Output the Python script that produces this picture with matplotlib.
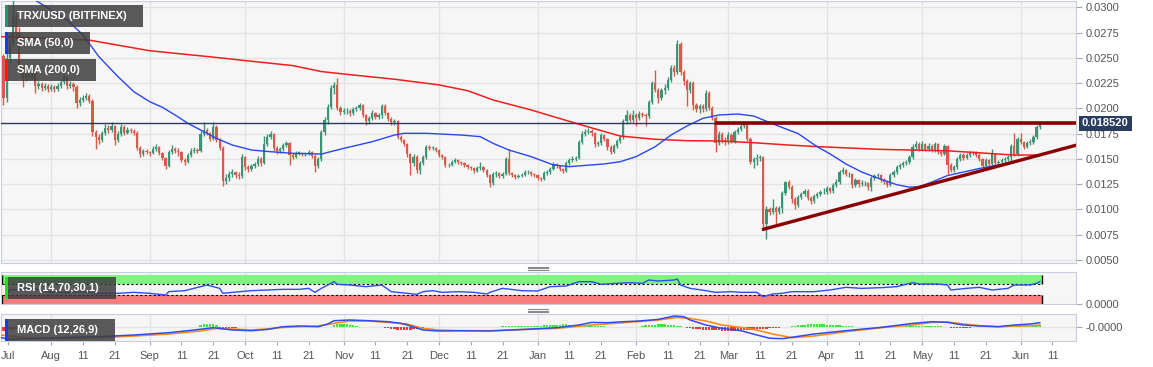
import numpy as np
import matplotlib
matplotlib.use("Agg")
import matplotlib.pyplot as plt
from matplotlib.lines import Line2D
from matplotlib.patches import Rectangle

plt.rcParams['font.family'] = ['Liberation Sans', 'DejaVu Sans']

# x axis: day number, day 0 = 1 Aug 2019; prices in units of 0.0001 USD
first_day = -15          # first candle: 17 Jul 2019
first_open = 252

closes = [210, 250, 265, 290, 275, 241, 230, 234, 231, 234,
          222, 224, 220, 222, 219, 221, 219, 222, 226, 231,
          222, 224, 221, 205, 208, 210, 212, 207, 177, 172,
          169, 176, 181, 179, 183, 169, 175, 182, 176, 179,
          178, 176, 161, 155, 158, 157, 156, 160, 162, 156,
          151, 143, 157, 160, 158, 157, 149, 147, 154, 158,
          159, 158, 175, 179, 176, 170, 182, 169, 161, 128,
          131, 135, 137, 134, 133, 152, 142, 140, 143, 145,
          150, 146, 165, 172, 175, 161, 158, 160, 164, 166,
          154, 152, 156, 156, 155, 155, 157, 153, 143, 150,
          177, 188, 201, 220, 223, 200, 196, 197, 197, 195,
          199, 200, 203, 193, 187, 190, 195, 191, 193, 202,
          195, 189, 186, 187, 172, 169, 165, 155, 146, 152,
          139, 146, 152, 162, 161, 161, 159, 154, 152, 144,
          144, 147, 149, 147, 146, 144, 142, 141, 138, 141,
          142, 139, 134, 126, 135, 136, 133, 135, 150, 136,
          134, 132, 133, 134, 137, 137, 135, 134, 131, 130,
          136, 137, 140, 145, 143, 140, 138, 146, 149, 150,
          151, 167, 175, 177, 178, 176, 165, 166, 174, 170,
          162, 157, 163, 168, 172, 187, 193, 188, 193, 190,
          194, 193, 192, 206, 225, 218, 210, 218, 220, 228,
          240, 236, 264, 236, 227, 218, 225, 203, 199, 202,
          199, 215, 200, 190, 166, 175, 169, 167, 174, 168,
          177, 180, 183, 185, 170, 147, 150, 151, 152, 86,
          100, 97, 101, 97, 101, 116, 127, 122, 110, 104,
          112, 115, 118, 111, 108, 113, 115, 117, 117, 121,
          118, 124, 127, 137, 139, 135, 135, 124, 129, 125,
          126, 126, 122, 131, 133, 134, 129, 127, 124, 134,
          137, 142, 144, 146, 147, 152, 162, 165, 160, 165,
          160, 163, 159, 165, 157, 155, 163, 144, 139, 142,
          150, 154, 151, 154, 156, 156, 154, 150, 143, 149,
          145, 155, 146, 147, 149, 150, 152, 163, 155, 170,
          167, 162, 166, 167, 172, 182, 185.2]

highs = [254, 258, 275, 307, 294, 280, 244, 238, 237, 238,
         236, 227, 226, 225, 224, 224, 223, 225, 229, 234,
         232, 227, 226, 223, 211, 213, 215, 214, 209, 179,
         175, 178, 185, 184, 186, 184, 178, 185, 184, 182,
         181, 180, 178, 163, 160, 160, 158, 163, 165, 163,
         157, 152, 159, 164, 162, 161, 158, 151, 156, 161,
         162, 161, 178, 186, 181, 177, 186, 184, 171, 163,
         135, 138, 140, 138, 137, 155, 153, 144, 145, 147,
         153, 152, 173, 175, 178, 176, 163, 162, 166, 168,
         167, 156, 158, 158, 157, 157, 159, 158, 155, 152,
         179, 191, 204, 223, 226, 230, 202, 200, 200, 199,
         201, 202, 205, 204, 194, 192, 198, 196, 195, 204,
         204, 196, 191, 189, 188, 174, 170, 166, 156, 155,
         154, 148, 154, 164, 164, 163, 162, 160, 155, 153,
         146, 149, 151, 150, 148, 147, 145, 143, 142, 143,
         147, 143, 140, 135, 137, 138, 137, 137, 152, 160,
         137, 135, 135, 136, 139, 139, 138, 136, 135, 132,
         138, 139, 142, 147, 146, 144, 141, 148, 151, 153,
         153, 169, 178, 180, 181, 180, 177, 168, 176, 175,
         171, 164, 165, 170, 174, 189, 198, 195, 198, 195,
         197, 196, 195, 208, 227, 238, 220, 220, 224, 231,
         243, 243, 268, 266, 238, 229, 227, 227, 205, 204,
         204, 218, 217, 202, 192, 178, 177, 172, 177, 176,
         179, 182, 185, 187, 187, 172, 152, 155, 154, 153,
         103, 102, 110, 103, 103, 118, 128, 129, 124, 112,
         114, 117, 120, 120, 113, 115, 117, 119, 121, 123,
         122, 126, 130, 139, 142, 140, 137, 136, 131, 130,
         129, 128, 127, 133, 135, 136, 135, 131, 128, 136,
         139, 144, 146, 148, 149, 154, 165, 168, 167, 168,
         166, 166, 165, 167, 166, 159, 165, 164, 146, 144,
         152, 156, 156, 156, 158, 158, 158, 156, 151, 151,
         150, 160, 156, 149, 151, 152, 154, 165, 176, 172,
         176, 168, 168, 170, 174, 184, 187]

lows = [203, 206, 245, 262, 268, 236, 221, 227, 228, 229,
        215, 219, 217, 218, 216, 217, 216, 217, 220, 224,
        219, 220, 217, 200, 202, 206, 208, 205, 173, 160,
        165, 167, 174, 176, 177, 164, 167, 173, 174, 175,
        176, 174, 159, 152, 153, 155, 153, 155, 158, 154,
        149, 140, 142, 155, 156, 153, 147, 144, 146, 152,
        156, 156, 157, 173, 174, 168, 169, 167, 159, 123,
        125, 128, 132, 131, 130, 131, 139, 137, 138, 141,
        143, 143, 145, 163, 170, 158, 155, 156, 158, 162,
        144, 150, 151, 154, 153, 153, 154, 151, 137, 141,
        148, 174, 185, 199, 214, 198, 193, 194, 194, 192,
        193, 197, 198, 191, 184, 185, 188, 189, 189, 190,
        193, 187, 184, 184, 170, 167, 163, 152, 134, 143,
        136, 135, 144, 150, 159, 159, 157, 152, 150, 142,
        142, 143, 146, 145, 144, 142, 140, 139, 136, 137,
        139, 137, 132, 122, 124, 132, 131, 131, 134, 134,
        132, 130, 131, 132, 133, 135, 133, 132, 129, 128,
        129, 134, 135, 139, 141, 138, 136, 137, 144, 147,
        148, 150, 165, 173, 175, 173, 162, 163, 164, 168,
        159, 155, 156, 161, 166, 170, 185, 186, 186, 183,
        188, 191, 183, 190, 204, 216, 205, 208, 214, 218,
        226, 232, 234, 233, 223, 202, 215, 198, 196, 195,
        196, 197, 198, 188, 157, 164, 166, 164, 165, 166,
        166, 175, 178, 181, 168, 145, 141, 144, 148, 82,
        71, 94, 95, 86, 95, 96, 114, 120, 106, 100,
        102, 110, 113, 109, 105, 106, 111, 113, 115, 115,
        116, 116, 122, 125, 135, 133, 132, 121, 122, 122,
        123, 123, 119, 118, 129, 131, 127, 125, 122, 123,
        132, 135, 140, 142, 144, 145, 150, 159, 158, 158,
        158, 158, 157, 157, 155, 153, 154, 135, 137, 137,
        140, 148, 149, 150, 152, 154, 152, 148, 141, 142,
        143, 144, 144, 145, 146, 147, 148, 146, 153, 153,
        165, 160, 161, 164, 165, 170, 180]

sma50_days = [-16, -5, 5, 10, 15, 21, 26, 31, 35, 39, 43, 47, 52, 57, 63, 69, 76, 85, 92, 101,
              108, 111, 118, 129, 135, 139, 144, 151, 158, 163, 174, 179, 184, 190, 195, 200, 205, 210, 216, 221,
              226, 230, 235, 241, 245, 250, 255, 260, 266, 270, 273, 277, 282, 292, 303, 311]
sma50_vals = [327, 307, 287.5, 272.6, 251.2, 231.4, 216.5, 206.6, 201, 193.4, 185.2, 178.6, 170.3, 163.7, 158.8,
              157.1, 155.5, 154.8, 160.4, 167, 173.6, 175.3, 175.3, 173.6, 172, 165.4, 158.8, 152.2, 144, 142.3,
              145, 147.2, 152.2, 162, 173.6, 182.5, 190.1, 193.4, 194.4, 192.4, 186, 181, 175, 162, 155, 145,
              137, 131, 124.5, 122, 122.5, 127, 133.5, 140.5, 147, 153.8]

sma200_days = [-16, 12, 31, 50, 66, 76, 85, 92, 108, 122, 131, 139, 151, 158, 168, 179, 190, 200, 210, 221,
               232, 242, 261, 282, 292, 303, 311]
sma200_vals = [271, 267.5, 257, 251, 245.6, 242.3, 236.4, 234, 228.8, 223.2, 217.5, 208.3, 198.4, 191.8, 182.5,
               172.6, 169.4, 168, 167.7, 166, 163.7, 162, 159.4, 158, 156, 153.8, 153.8]

last_price = 185.2
resistance = {'start': 208.7, 'level': 185.2}
support = {'days': [224.1, 322.4], 'vals': [80.4, 163.5]}

rsi_days = [-14, -13, -6, 0, 5, 10, 15, 21, 26, 31, 36, 37, 42, 47, 49, 51, 53, 54, 57, 63, 68, 73, 78, 81,
            83, 85, 89, 90, 94, 99, 104, 107, 112, 115, 117, 120, 123, 128, 133, 137, 138, 142, 148, 153,
            157, 162, 166, 170, 173, 178, 182, 186, 188, 191, 196, 197, 198, 201, 206, 209, 214, 217, 222,
            224, 227, 230, 233, 240, 245, 250, 255, 261, 266, 271, 273, 279, 282, 283, 288, 292, 296, 301,
            303, 308, 310, 311]
rsi_vals = [36.8, 48.3, 54.0, 40.2, 39.1, 42.5, 36.8, 36.8, 40.2, 36.8, 31.0, 42.5, 46.0, 59.8, 65.5, 59.8,
            54.0, 36.8, 40.2, 46.0, 48.3, 50.6, 50.6, 54.0, 40.2, 54.0, 77.0, 67.8, 65.5, 59.8, 65.5, 42.5,
            36.8, 33.3, 42.5, 46.0, 40.2, 42.5, 40.2, 34.5, 40.2, 54.0, 46.0, 44.8, 59.8, 62.1, 77.0, 77.0,
            67.8, 71.3, 73.6, 71.3, 82.8, 79.3, 82.8, 86.2, 65.5, 54.0, 46.0, 40.2, 42.5, 40.2, 40.2, 25.3,
            34.5, 36.8, 42.5, 42.5, 48.3, 57.5, 54.0, 56.3, 59.8, 73.6, 69.0, 69.0, 65.5, 48.3, 54.0, 57.5,
            48.3, 54.0, 65.5, 65.5, 71.3, 77.0]
rsi_band_days = [-15.6, 311.6]

# MACD in units of 0.0001
macd_days = [-16, -13, -6, 5, 15, 26, 37, 45, 51, 57, 63, 68, 73, 78, 84, 87, 89, 94, 100, 106, 110, 112,
             117, 122, 128, 138, 149, 159, 166, 170, 175, 180, 185, 191, 196, 199, 201, 206, 211, 217, 222,
             226, 230, 240, 250, 261, 271, 277, 282, 287, 292, 298, 303, 308, 311]
macd_vals = [-10.7, -12.7, -11.7, -10.7, -10.0, -8.3, -6.0, -3.3, -1.0, -3.3, -4.0, -2.7, 0.0, 0.7, 0.0, 2.7,
             6.0, 6.7, 6.0, 5.0, 3.3, 1.7, -3.3, -4.3, -4.0, -4.3, -2.7, -1.0, 1.7, 4.3, 4.0, 5.0, 5.7, 7.3,
             10.7, 10.0, 6.7, 1.7, -1.7, -4.0, -8.3, -11.5, -12.0, -7.3, -4.0, -0.7, 3.3, 5.0, 4.3, 1.7, 0.7,
             0.0, 1.7, 2.7, 4.0]
signal_days = [-16, -6, 5, 15, 26, 37, 47, 52, 57, 63, 68, 73, 78, 84, 89, 94, 100, 104, 110, 112, 117, 122,
               128, 138, 149, 159, 170, 180, 191, 197, 201, 206, 211, 217, 222, 227, 233, 240, 250, 261, 271,
               277, 282, 287, 292, 298, 303, 308, 311]
signal_vals = [-8.3, -11.7, -11.7, -11.0, -9.3, -7.3, -4.3, -1.7, -2.3, -3.3, -2.3, -0.7, 0.0, 0.7, 3.3, 5.7,
               5.7, 4.7, 3.3, 2.7, -1.7, -3.3, -4.0, -4.0, -2.7, -1.7, 1.7, 4.0, 6.7, 9.3, 8.3, 5.7, 1.7, -0.7,
               -3.3, -7.3, -11.0, -9.3, -5.0, -1.0, 1.7, 4.3, 4.7, 2.7, 1.0, 0.0, 0.7, 1.0, 1.7]
hist_runs = [
    (-15, [-4.5, -4, -3.5, -3, -2.5, -2]),
    (0, [0.5, 0.5, 0.7, 0.7, 0.8, 0.8, 1, 1, 1, 0.8, 0.8, 0.7, 0.7, 0.6, 0.6, 0.5]),
    (47, [1.5, 2.5, 3, 3, 2.5, 1.5]),
    (53, [-1, -1.5, -2, -2, -1.5, -1]),
    (89, [1.5, 2.5, 3, 3, 2.5, 2, 1.5, 1]),
    (104, [-0.5, -1, -1.5, -2, -2.5, -3, -3.5, -3.5, -3, -3, -2.5, -2, -1.5, -1, -0.5]),
    (142, [0.5, 0.8, 1, 1, 1, 1, 1, 1, 1.2, 1.2, 1.2, 1.2, 1.2, 1.5, 1.5, 1.5, 2, 2, 2, 2.5, 2.5, 2, 2,
           1.5, 1.5, 1, 1, 1, 0.8, 0.8, 0.5, 0.5, 0.5]),
    (186, [1, 1.5, 1.5, 2, 2, 2.5, 2.5, 2.5, 2, 2, 1.5, 1, 0.5]),
    (200, [-1, -1.5, -2, -2, -2.5, -3, -3, -3, -3.5, -3.5, -3.5, -4, -4, -4, -4, -4, -4, -3.5, -3.5, -3,
           -3, -3, -2.5, -2.5, -2, -2, -1.5, -1.5, -1, -1, -0.5]),
    (233, [0.5, 1, 1.5, 2, 2, 2.5, 2.5, 2.5, 2.5, 2.5, 2.5, 2, 2, 2, 1.5, 1.5, 1, 1, 0.5, 0.5]),
    (269, [0.5, 0.7, 0.8, 1, 1, 1, 0.8, 0.7, 0.5, 0.5, 0.3, 0.3]),
    (282, [-0.5, -0.8, -1, -1, -1, -1, -0.8, -0.8, -0.6, -0.5, -0.5, -0.4, -0.3, -0.3, -0.3, -0.2]),
    (302, [0.3, 0.5, 0.7, 0.8, 1, 1, 1.2, 1.2, 1.5, 1.5]),
]

month_days = [0, 31, 61, 92, 122, 153, 184, 213, 244, 274, 305]
tick_days = [-13.7, 0, 10, 20, 31, 41, 51, 61, 71, 81, 92, 102, 112, 122, 132, 142, 153, 163, 173,
             184, 194, 204, 213, 223, 233, 244, 254, 264, 274, 284, 294, 305, 315]
tick_labels = ['Jul', 'Aug', '11', '21', 'Sep', '11', '21', 'Oct', '11', '21', 'Nov', '11', '21',
               'Dec', '11', '21', 'Jan', '11', '21', 'Feb', '11', '21', 'Mar', '11', '21',
               'Apr', '11', '21', 'May', '11', '21', 'Jun', '11']
price_ticks = [50, 75, 100, 125, 150, 175, 200, 225, 250, 275, 300]

SCALE = 1e-4
GREEN, RED = '#3a9476', '#d85a4b'
GRID = '#e3e3e3'
SPINE = '#c8cde0'
TXT = '#555555'

W, H = 1153, 367
fig = plt.figure(figsize=(W / 100, H / 100), dpi=100)


def px_axes(left, top, right, bottom):
    a = fig.add_axes([left / W, 1 - bottom / H, (right - left) / W, (bottom - top) / H])
    a.set_facecolor('#f6f6f6')
    for s in a.spines.values():
        s.set_color(SPINE)
    a.set_xlim(-15.94, 322.4)
    for m in month_days:
        a.axvline(m, color=GRID, lw=1, zorder=0)
    a.yaxis.tick_right()
    a.tick_params(axis='y', length=4.5, width=0.8, color='#a0a6bb', labelsize=8, labelcolor=TXT, pad=2.5)
    return a


ax = px_axes(0.5, 0.7, 1076, 263.3)
ax_rsi = px_axes(0.5, 271.7, 1076, 304.3)
ax_macd = px_axes(0.5, 314.3, 1076, 341.3)

# ---- price panel
days = first_day + np.arange(len(closes))
c = np.array(closes) * SCALE
hi = np.array(highs) * SCALE
lo = np.array(lows) * SCALE
o = np.concatenate([[first_open * SCALE], c[:-1]])
cols = np.where(c >= o, GREEN, RED)
ax.vlines(days, lo, hi, colors=cols, lw=1, zorder=3)
ax.bar(days, np.maximum(np.abs(c - o), 0.4 * SCALE), bottom=np.minimum(o, c), width=0.7,
       color=cols, linewidth=0, zorder=4)

ax.plot(sma200_days, np.array(sma200_vals) * SCALE, color='#f21d1d', lw=1.1, zorder=5)
ax.plot(sma50_days, np.array(sma50_vals) * SCALE, color='#2a46f2', lw=1.0, zorder=5)
ax.axhline(last_price * SCALE, color='#2b3a5c', lw=1, zorder=5)
ax.plot([resistance['start'], 322.4], [resistance['level'] * SCALE] * 2, color='#8b0000', lw=2.6,
        zorder=6, solid_capstyle='butt')
ax.plot(support['days'], np.array(support['vals']) * SCALE, color='#8b0000', lw=2.4, zorder=6)

ax.set_ylim(46.7 * SCALE, 306.5 * SCALE)
ax.set_yticks(np.array(price_ticks) * SCALE)
ax.set_yticklabels(['%.4f' % (t * SCALE) for t in price_ticks])
ax.grid(axis='y', color=GRID, lw=1)
ax.set_axisbelow(True)
ax.tick_params(axis='x', bottom=False, labelbottom=False)
ax.text(1082 / 1076, last_price * SCALE, '%.6f' % (last_price * SCALE), transform=ax.get_yaxis_transform(),
        ha='left', va='center', color='white', fontsize=8, fontweight='bold', zorder=10,
        bbox=dict(boxstyle='square,pad=0.25', fc='#2c3e60', ec='none'))

# ---- RSI panel
ax_rsi.set_ylim(-1, 111.4)
b0, b1 = rsi_band_days
ax_rsi.add_patch(Rectangle((b0, 70), b1 - b0, 30, fc='#7ef57e', ec='none', zorder=1))
ax_rsi.add_patch(Rectangle((b0, 0), b1 - b0, 30, fc='#f97d7d', ec='none', zorder=1))
ax_rsi.vlines([b0, b1], 70, 100, color='black', lw=1, zorder=2)
ax_rsi.vlines([b0, b1], 0, 30, color='black', lw=1, zorder=2)
ax_rsi.hlines([70, 30], b0, b1, color='black', lw=0.8, linestyles=(0, (2, 2)), zorder=2)
ax_rsi.plot(rsi_days, rsi_vals, color='#2f4cf0', lw=1, zorder=3)
ax_rsi.set_yticks([0])
ax_rsi.set_yticklabels(['0.0000'])
ax_rsi.tick_params(axis='x', bottom=False, labelbottom=False)

# ---- MACD panel
ax_macd.set_ylim(-14.6, 12.4)
ax_macd.axhline(0, color=GRID, lw=1, zorder=0)
for start, vals in hist_runs:
    hd = start + np.arange(len(vals))
    hv = np.array(vals)
    ax_macd.bar(hd, hv, width=0.75, color=np.where(hv >= 0, '#25e025', '#f01515'), linewidth=0,
                alpha=0.85, zorder=2)
ax_macd.plot(signal_days, signal_vals, color='#ff8a1c', lw=1.2, zorder=3)
ax_macd.plot(macd_days, macd_vals, color='#2f4cf0', lw=1.1, zorder=4)
ax_macd.set_yticks([0])
ax_macd.set_yticklabels(['-0.0000'])
ax_macd.set_xticks(tick_days)
ax_macd.set_xticklabels(tick_labels)
ax_macd.tick_params(axis='x', length=3, width=0.8, color='#a0a6bb', labelsize=8, labelcolor=TXT, pad=4)


# ---- legend boxes (figure pixel coordinates)
def legend_box(x, y, w, h, marker, label):
    fig.add_artist(Rectangle((x / W, 1 - (y + h) / H), w / W, h / H, transform=fig.transFigure,
                             fc='#3e3e3e', ec='none', alpha=0.85, zorder=10))
    fig.add_artist(Rectangle((x / W, 1 - (y + h) / H), 2.6 / W, h / H, transform=fig.transFigure,
                             fc=marker, ec='none', zorder=11))
    fig.text((x + 12) / W, 1 - (y + h / 2) / H, label, color='white', fontsize=8, fontweight='bold',
             ha='left', va='center', zorder=12)


legend_box(5, 5, 138, 22, '#2f8f6c', 'TRX/USD (BITFINEX)')
legend_box(5, 32, 85, 22, '#1a36ff', 'SMA (50,0)')
legend_box(5, 59, 91, 22, '#ff1a1a', 'SMA (200,0)')
legend_box(5, 277, 111, 22, '#1fe01f', 'RSI (14,70,30,1)')
legend_box(5, 319, 110, 22, '#1a36ff', 'MACD (12,26,9)')

# panel resize handles
for yc in (268.3, 310.5):
    for dy in (-1.7, 0, 1.7):
        fig.add_artist(Line2D([528 / W, 548 / W], [1 - (yc + dy) / H] * 2, transform=fig.transFigure,
                              color='#8a8a8a', lw=0.8))

fig.savefig('out.png', dpi=100, facecolor='white')
